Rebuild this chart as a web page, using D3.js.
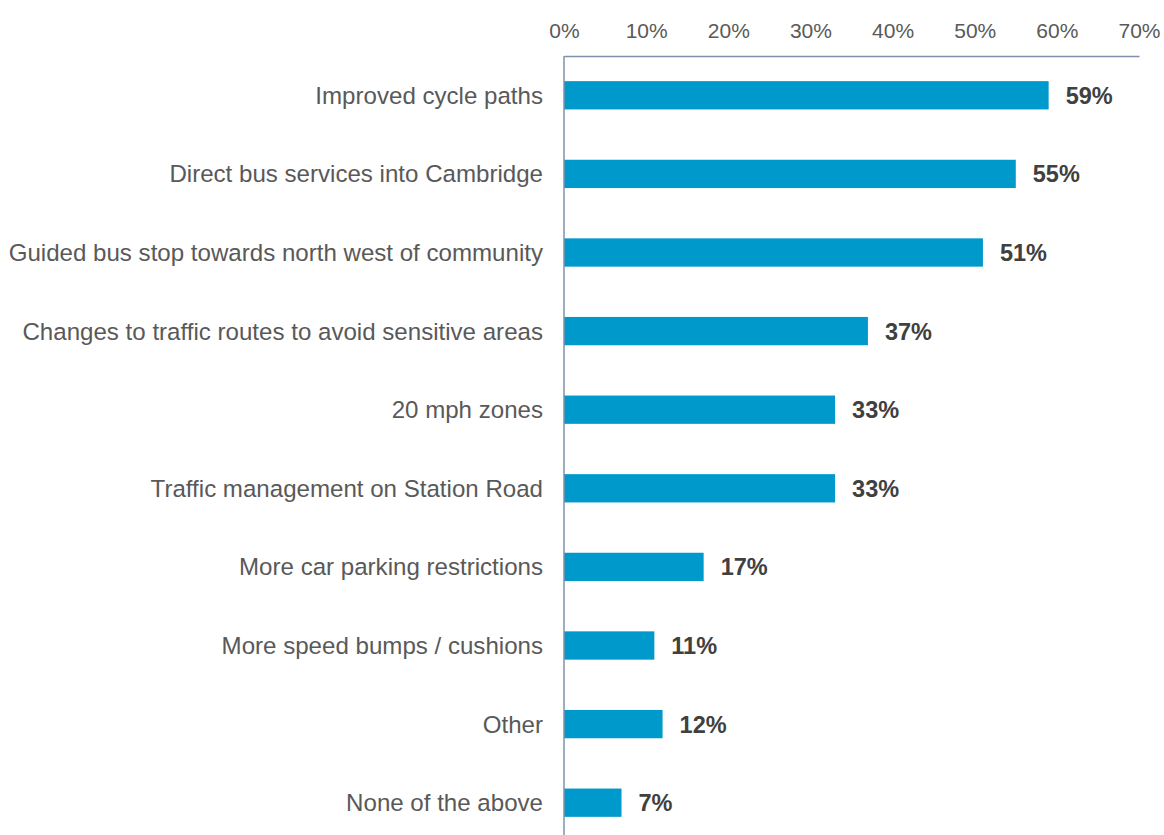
<!DOCTYPE html>
<html>
<head>
<meta charset="utf-8">
<script src="https://cdn.jsdelivr.net/npm/d3@7"></script>
<style>
  body { margin: 0; background: #fff; }
  svg { display: block; }
</style>
</head>
<body>
<div id="chart"></div>
<script>
const categories = [
    "Improved cycle paths",
    "Direct bus services into Cambridge",
    "Guided bus stop towards north west of community",
    "Changes to traffic routes to avoid sensitive areas",
    "20 mph zones",
    "Traffic management on Station Road",
    "More car parking restrictions",
    "More speed bumps / cushions",
    "Other",
    "None of the above"
];
const values = [59, 55, 51, 37, 33, 33, 17, 11, 12, 7];
const ticks = [0, 10, 20, 30, 40, 50, 60, 70];

const width = 1164, height = 835;
const margin = { left: 564, right: 25, top: 56 };

const svg = d3.select('#chart')
    .append('svg')
    .attr('width', width)
    .attr('height', height)
    .style('font-family', 'Liberation Sans, Arial, sans-serif');

const x = d3.scaleLinear()
    .domain([0, 70])
    .range([margin.left, width - margin.right]);

const y = d3.scaleBand()
    .domain(categories)
    .range([margin.top, margin.top + 786])
    .paddingInner(0.64)
    .paddingOuter(0.32);

// top axis
const xAxis = svg.append('g')
    .attr('transform', `translate(0,${margin.top})`)
    .call(d3.axisTop(x).tickValues(ticks).tickSize(0).tickPadding(18).tickFormat(d => d + '%'));
xAxis.select('.domain').attr('stroke', '#7f92ab').attr('stroke-width', 1.5);
xAxis.selectAll('text')
    .attr('fill', '#595959')
    .style('font-size', '21px');

// bars
svg.append('g')
    .selectAll('rect')
    .data(values)
    .enter()
    .append('rect')
    .attr('x', x(0))
    .attr('y', (d, i) => y(categories[i]))
    .attr('width', d => x(d) - x(0))
    .attr('height', y.bandwidth())
    .attr('fill', '#0099cc');

// left axis line
svg.append('line')
    .attr('x1', x(0)).attr('x2', x(0))
    .attr('y1', margin.top).attr('y2', height)
    .attr('stroke', '#7f92ab')
    .attr('stroke-width', 1.5);

// category labels
svg.append('g')
    .selectAll('text')
    .data(categories)
    .enter()
    .append('text')
    .attr('x', x(0) - 21)
    .attr('y', d => y(d) + y.bandwidth() / 2 + 8.5)
    .attr('text-anchor', 'end')
    .attr('fill', '#595959')
    .style('font-size', '24.1px')
    .text(d => d);

// value labels
svg.append('g')
    .selectAll('text')
    .data(values)
    .enter()
    .append('text')
    .attr('x', d => x(d) + 17)
    .attr('y', (d, i) => y(categories[i]) + y.bandwidth() / 2 + 8.5)
    .attr('fill', '#404040')
    .style('font-size', '23.5px')
    .style('font-weight', 'bold')
    .text(d => d + '%');
</script>
</body>
</html>
